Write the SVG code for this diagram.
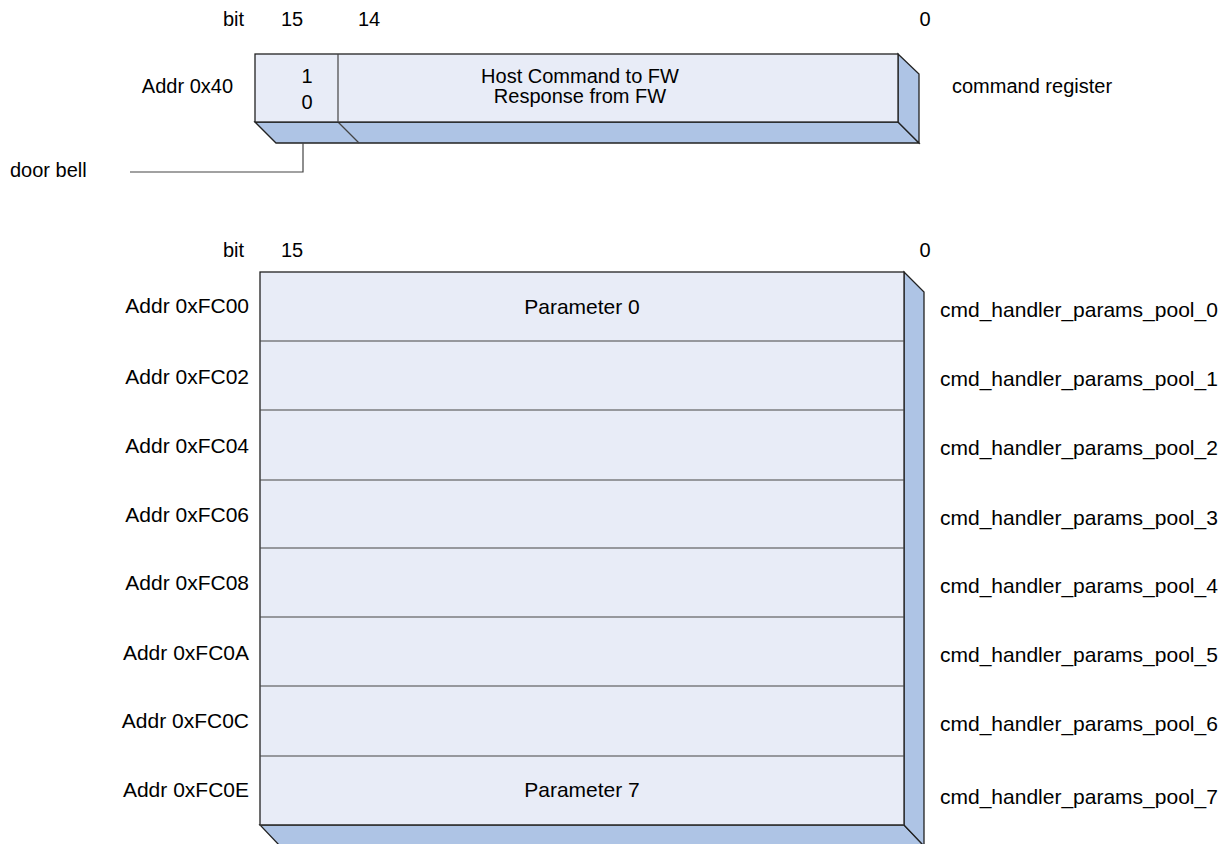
<svg xmlns="http://www.w3.org/2000/svg" width="1228" height="844" viewBox="0 0 1228 844">
<style>
text{font-family:"Liberation Sans",Arial,sans-serif;font-size:20px;fill:#000}
.big{font-size:21px}
.front{fill:#e8ecf7;stroke:#222;stroke-width:1.3}
.side{fill:#aec4e5;stroke:#222;stroke-width:1.3}
.div{stroke:#444;stroke-width:1.2;fill:none}
.mid{text-anchor:middle}
.end{text-anchor:end}
</style>
<rect width="1228" height="844" fill="#fff"/>
<g id="cmd-register">
<polygon class="side" points="255,122 898,122 919,143 276,143"/>
<polygon class="side" points="898,54 919,74 919,143 898,122"/>
<line class="div" x1="338" y1="122" x2="359" y2="143"/>
<rect class="front" x="255" y="54" width="643" height="68"/>
<line class="div" x1="338" y1="54" x2="338" y2="122"/>
<text x="244" y="26" class="end">bit</text>
<text x="292" y="26" class="mid">15</text>
<text x="369" y="26" class="mid">14</text>
<text x="925" y="26" class="mid">0</text>
<text x="233" y="93" class="end">Addr 0x40</text>
<text x="307" y="83" class="mid">1</text>
<text x="307" y="109" class="mid">0</text>
<text x="580" y="83" class="mid">Host Command to FW</text>
<text x="580" y="103" class="mid">Response from FW</text>
<text x="952" y="93">command register</text>
</g>
<g id="door-bell">
<text x="10" y="177">door bell</text>
</g>
<g id="connectors">
<polyline class="div" points="303,143 303,172 130,172"/>
</g>
<g id="params-pool">
<polygon class="side" points="260,825 904,825 924,846 280,846"/>
<polygon class="side" points="904,272 924,292 924,846 904,825"/>
<rect class="front" x="260" y="272" width="644" height="553"/>
<line class="div" x1="260" y1="341" x2="904" y2="341"/>
<line class="div" x1="260" y1="410" x2="904" y2="410"/>
<line class="div" x1="260" y1="480" x2="904" y2="480"/>
<line class="div" x1="260" y1="548" x2="904" y2="548"/>
<line class="div" x1="260" y1="617" x2="904" y2="617"/>
<line class="div" x1="260" y1="686" x2="904" y2="686"/>
<line class="div" x1="260" y1="756" x2="904" y2="756"/>
<line class="div" x1="260" y1="825" x2="904" y2="825"/>
<text x="244" y="257" class="end">bit</text>
<text x="292" y="257" class="mid">15</text>
<text x="925" y="257" class="mid">0</text>
<g class="big">
<text x="582" y="314" class="mid big">Parameter 0</text>
<text x="582" y="797" class="mid big">Parameter 7</text>
<text x="249" y="313" class="end big">Addr 0xFC00</text>
<text x="249" y="384" class="end big">Addr 0xFC02</text>
<text x="249" y="453" class="end big">Addr 0xFC04</text>
<text x="249" y="522" class="end big">Addr 0xFC06</text>
<text x="249" y="590" class="end big">Addr 0xFC08</text>
<text x="249" y="660" class="end big">Addr 0xFC0A</text>
<text x="249" y="728" class="end big">Addr 0xFC0C</text>
<text x="249" y="797" class="end big">Addr 0xFC0E</text>
<text x="940" y="317" class="big">cmd_handler_params_pool_0</text>
<text x="940" y="386" class="big">cmd_handler_params_pool_1</text>
<text x="940" y="455" class="big">cmd_handler_params_pool_2</text>
<text x="940" y="525" class="big">cmd_handler_params_pool_3</text>
<text x="940" y="593" class="big">cmd_handler_params_pool_4</text>
<text x="940" y="662" class="big">cmd_handler_params_pool_5</text>
<text x="940" y="731" class="big">cmd_handler_params_pool_6</text>
<text x="940" y="804" class="big">cmd_handler_params_pool_7</text>
</g>
</g>
</svg>
